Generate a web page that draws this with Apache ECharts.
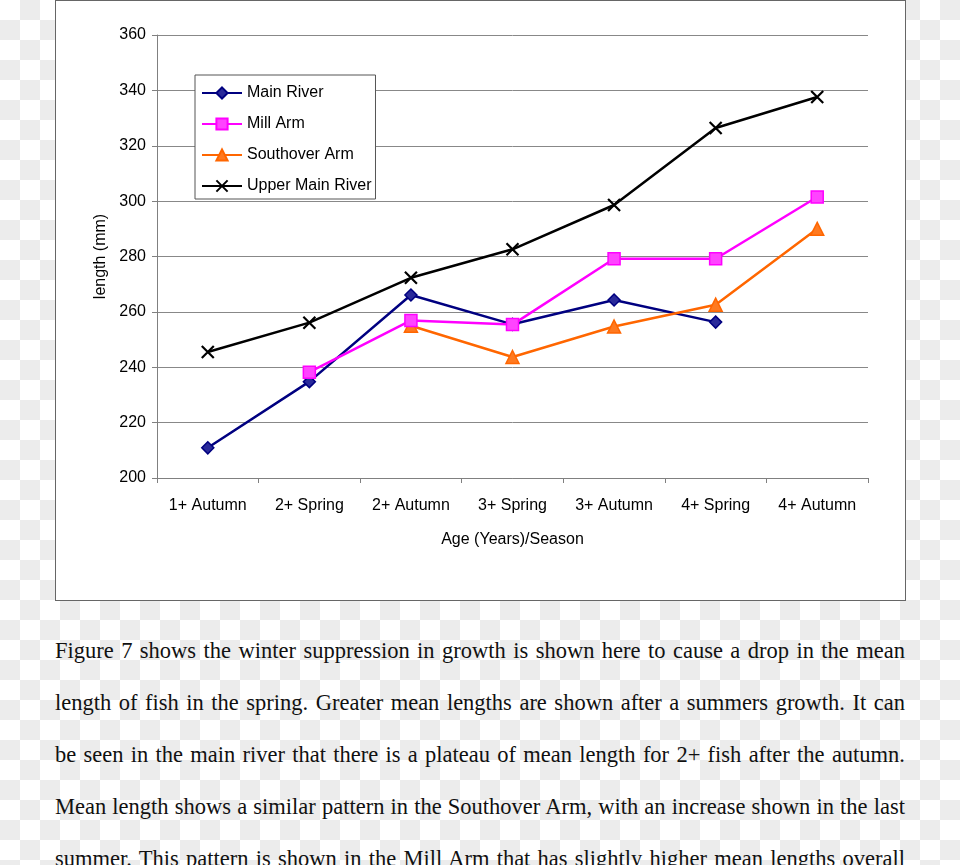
<!DOCTYPE html>
<html>
<head>
<meta charset="utf-8">
<script src="https://cdn.jsdelivr.net/npm/echarts@6/dist/echarts.min.js"></script>
<style>
  html, body { margin: 0; padding: 0; width: 960px; height: 865px; overflow: hidden; }
  body { background: repeating-conic-gradient(#ececec 0 25%, #ffffff 0 50%) 0 0 / 40px 40px; position: relative; }
  #box { position: absolute; left: 55px; top: 0px; width: 849px; height: 599px; background: #fff; border: 1px solid #666; }
  #chart { position: absolute; left: 0; top: 0; width: 960px; height: 600px; }
  #text { position: absolute; left: 55px; top: 625px; width: 850px; font-family: 'Liberation Serif', 'Times New Roman', serif; font-size: 22.5px; line-height: 52px; color: #111; }
  #text div { text-align: justify; text-align-last: justify; white-space: nowrap; }
</style>
</head>
<body>
<div id="box"></div>
<div id="chart"></div>
<div id="text">
  <div>Figure 7 shows the winter suppression in growth is shown here to cause a drop in the mean</div>
  <div>length of fish in the spring. Greater mean lengths are shown after a summers growth. It can</div>
  <div>be seen in the main river that there is a plateau of mean length for 2+ fish after the autumn.</div>
  <div>Mean length shows a similar pattern in the Southover Arm, with an increase shown in the last</div>
  <div>summer. This pattern is shown in the Mill Arm that has slightly higher mean lengths overall</div>
</div>
<script>
const categories = ['1+ Autumn', '2+ Spring', '2+ Autumn', '3+ Spring', '3+ Autumn', '4+ Spring', '4+ Autumn'];
const mainRiver = [210.9, 234.8, 266.1, 255.5, 264.3, 256.3, null];
const millArm = [null, 238.2, 256.9, 255.4, 279.2, 279.2, 301.5];
const southoverArm = [null, null, 255.0, 243.7, 254.7, 262.6, 290.0];
const upperMainRiver = [245.5, 256.1, 272.3, 282.6, 298.6, 326.4, 337.6];
const yTicks = { min: 200, max: 360, interval: 20 };

const FONT = "'Liberation Sans', Arial, sans-serif";
const FS = 16;
const xPath = 'path://M0,0L10,10M10,0L0,10';

const chart = echarts.init(document.getElementById('chart'), null, { renderer: 'canvas' });
chart.setOption({
  animation: false,
  backgroundColor: 'transparent',
  textStyle: { fontFamily: FONT },
  grid: { left: 157, right: 92, top: 35, height: 443, containLabel: false },
  legend: {
    orient: 'vertical',
    left: 195, top: 75,
    padding: [8, 4, 3, 6],
    itemWidth: 40, itemHeight: 14, itemGap: 11,
    backgroundColor: '#fff',
    borderColor: '#555', borderWidth: 1, borderRadius: 0,
    textStyle: { fontFamily: FONT, fontSize: FS, color: '#000', lineHeight: 20 },
    data: ['Main River', 'Mill Arm', 'Southover Arm', 'Upper Main River']
  },
  xAxis: {
    type: 'category',
    data: categories,
    boundaryGap: true,
    name: 'Age (Years)/Season',
    nameLocation: 'middle',
    nameGap: 54,
    nameTextStyle: { fontFamily: FONT, fontSize: FS, color: '#000' },
    axisLine: { lineStyle: { color: '#808080', width: 1 } },
    axisTick: { show: true, alignWithLabel: false, length: 5, lineStyle: { color: '#808080' } },
    axisLabel: { margin: 20, fontFamily: FONT, fontSize: FS, color: '#000', interval: 0 },
    splitLine: { show: false }
  },
  yAxis: {
    type: 'value',
    min: yTicks.min, max: yTicks.max, interval: yTicks.interval,
    name: 'length (mm)',
    nameLocation: 'middle',
    nameGap: 35,
    nameRotate: 90,
    nameTextStyle: { fontFamily: FONT, fontSize: FS, color: '#000' },
    axisLine: { show: true, lineStyle: { color: '#808080', width: 1 } },
    axisTick: { show: true, length: 5, lineStyle: { color: '#808080' } },
    axisLabel: { margin: 11, fontFamily: FONT, fontSize: FS, color: '#000' },
    splitLine: { show: true, lineStyle: { color: '#888888', width: 1 } }
  },
  series: [
    {
      name: 'Main River', type: 'line', data: mainRiver, connectNulls: false,
      symbol: 'diamond', symbolSize: 12, showAllSymbol: true,
      lineStyle: { color: '#000080', width: 2.5 },
      itemStyle: { color: '#2a2a9a', borderColor: '#000080', borderWidth: 1.5 },
      z: 3
    },
    {
      name: 'Mill Arm', type: 'line', data: millArm,
      symbol: 'rect', symbolSize: 12, showAllSymbol: true,
      lineStyle: { color: '#ff00ff', width: 2.5 },
      itemStyle: { color: '#ff44ff', borderColor: '#ff00ff', borderWidth: 1.5 },
      z: 4
    },
    {
      name: 'Southover Arm', type: 'line', data: southoverArm,
      symbol: 'triangle', symbolSize: 13, showAllSymbol: true,
      lineStyle: { color: '#ff6600', width: 2.5 },
      itemStyle: { color: '#ff7a20', borderColor: '#ff6600', borderWidth: 1.5 },
      z: 3
    },
    {
      name: 'Upper Main River', type: 'line', data: upperMainRiver,
      symbol: xPath, symbolSize: 12, showAllSymbol: true,
      lineStyle: { color: '#000000', width: 2.5 },
      itemStyle: { color: '#000000', borderColor: '#000000', borderWidth: 2.2 },
      z: 5
    }
  ]
});
</script>
</body>
</html>
